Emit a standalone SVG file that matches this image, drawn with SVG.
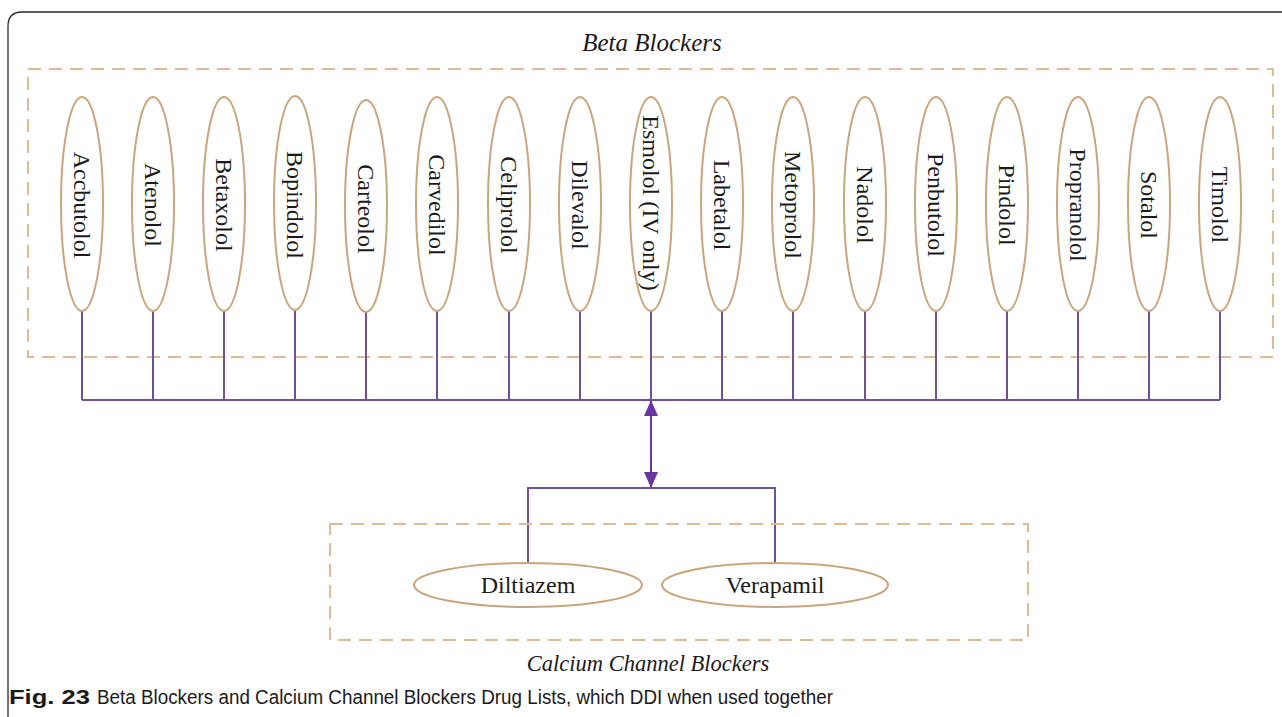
<svg xmlns="http://www.w3.org/2000/svg" width="1282" height="717" viewBox="0 0 1282 717">
<defs>
<style>
.frame{fill:none;stroke:#2a2a2a;stroke-width:1.3}
.dash{fill:none;stroke:#dcbc96;stroke-width:2;stroke-dasharray:13 8}
.el{fill:#fff;stroke:#c9a57c;stroke-width:2}
.lbl{font-family:"Liberation Serif","Times New Roman",serif;font-size:24px;fill:#1a1a1a;text-anchor:middle;dominant-baseline:central}
.title{font-family:"Liberation Serif","Times New Roman",serif;font-style:italic;fill:#1a1a1a;text-anchor:middle}
.con{fill:none;stroke:#6f5294;stroke-width:2}
.arr{fill:none;stroke:#6a35a0;stroke-width:2}
.cap{font-family:"Liberation Sans Narrow","Liberation Sans",Arial,sans-serif;font-size:20px;fill:#1a1a1a}
</style>
<marker id="ah" viewBox="0 0 10 10" refX="10" refY="5" markerWidth="16" markerHeight="14" markerUnits="userSpaceOnUse" orient="auto-start-reverse" preserveAspectRatio="none">
<path d="M0,0 L10,5 L0,10 Z" fill="#6a35a0"/>
</marker>
</defs>
<rect width="1282" height="717" fill="#fff"/>
<path class="frame" d="M8,717 V26 Q8,12 22,12 H1282"/>

<g id="beta-group">
<rect class="dash" x="28" y="69" width="1245" height="288"/>
<text class="title" x="652" y="51" font-size="25">Beta Blockers</text>
</g>

<g id="connectors">
<path class="con" d="M82,311V400M153,311V400M224,311V400M295,311V400M366,311V400M437,311V400M509,311V400M580,311V400M651,311V400M722,311V400M793,311V400M865,311V400M936,311V400M1007,311V400M1078,311V400M1149,311V400M1220,311V400"/>
<path class="con" d="M82,400H1220"/>
<path class="arr" d="M651,400V488" marker-start="url(#ah)" marker-end="url(#ah)"/>
<path class="con" d="M528,563V488H775V563"/>
</g>

<g id="n1"><ellipse class="el" cx="82" cy="204" rx="21" ry="107"/><text class="lbl" transform="translate(82,205) rotate(90)">Accbutolol</text></g>
<g id="n2"><ellipse class="el" cx="153" cy="204" rx="21" ry="107"/><text class="lbl" transform="translate(153,205) rotate(90)">Atenolol</text></g>
<g id="n3"><ellipse class="el" cx="224" cy="204" rx="21" ry="107"/><text class="lbl" transform="translate(224,205) rotate(90)">Betaxolol</text></g>
<g id="n4"><ellipse class="el" cx="295" cy="203" rx="21" ry="107"/><text class="lbl" transform="translate(295,205) rotate(90)">Bopindolol</text></g>
<g id="n5"><ellipse class="el" cx="366" cy="206" rx="21" ry="106"/><text class="lbl" transform="translate(366,209) rotate(90)">Carteolol</text></g>
<g id="n6"><ellipse class="el" cx="437" cy="204" rx="21" ry="107"/><text class="lbl" transform="translate(437,205) rotate(90)">Carvedilol</text></g>
<g id="n7"><ellipse class="el" cx="509" cy="204" rx="21" ry="107"/><text class="lbl" transform="translate(509,205) rotate(90)">Celiprolol</text></g>
<g id="n8"><ellipse class="el" cx="580" cy="204" rx="21" ry="107"/><text class="lbl" transform="translate(580,205) rotate(90)">Dilevalol</text></g>
<g id="n9"><ellipse class="el" cx="651" cy="204" rx="21" ry="107"/><text class="lbl" transform="translate(651,203) rotate(90)">Esmolol (IV only)</text></g>
<g id="n10"><ellipse class="el" cx="722" cy="204" rx="21" ry="107"/><text class="lbl" transform="translate(722,205) rotate(90)">Labetalol</text></g>
<g id="n11"><ellipse class="el" cx="793" cy="204" rx="21" ry="107"/><text class="lbl" transform="translate(793,205) rotate(90)">Metoprolol</text></g>
<g id="n12"><ellipse class="el" cx="865" cy="204" rx="21" ry="107"/><text class="lbl" transform="translate(865,205) rotate(90)">Nadolol</text></g>
<g id="n13"><ellipse class="el" cx="936" cy="204" rx="21" ry="107"/><text class="lbl" transform="translate(936,205) rotate(90)">Penbutolol</text></g>
<g id="n14"><ellipse class="el" cx="1007" cy="204" rx="21" ry="107"/><text class="lbl" transform="translate(1007,205) rotate(90)">Pindolol</text></g>
<g id="n15"><ellipse class="el" cx="1078" cy="204" rx="21" ry="107"/><text class="lbl" transform="translate(1078,205) rotate(90)">Propranolol</text></g>
<g id="n16"><ellipse class="el" cx="1149" cy="204" rx="21" ry="107"/><text class="lbl" transform="translate(1149,205) rotate(90)">Sotalol</text></g>
<g id="n17"><ellipse class="el" cx="1220" cy="204" rx="21" ry="107"/><text class="lbl" transform="translate(1220,205) rotate(90)">Timolol</text></g>

<g id="ccb-group">
<rect class="dash" x="330" y="524" width="698" height="116"/>
<text class="title" x="648" y="671" font-size="22.5">Calcium Channel Blockers</text>
</g>
<g id="n18"><ellipse class="el" cx="528" cy="585" rx="114" ry="22"/><text class="lbl" x="528" y="585">Diltiazem</text></g>
<g id="n19"><ellipse class="el" cx="775" cy="585" rx="113" ry="22"/><text class="lbl" x="775" y="585">Verapamil</text></g>

<g id="caption">
<text class="cap" x="9" y="704" font-weight="bold" textLength="81" lengthAdjust="spacingAndGlyphs">Fig. 23</text>
<text class="cap" x="97" y="704" textLength="736" lengthAdjust="spacingAndGlyphs">Beta Blockers and Calcium Channel Blockers Drug Lists, which DDI when used together</text>
</g>
</svg>
